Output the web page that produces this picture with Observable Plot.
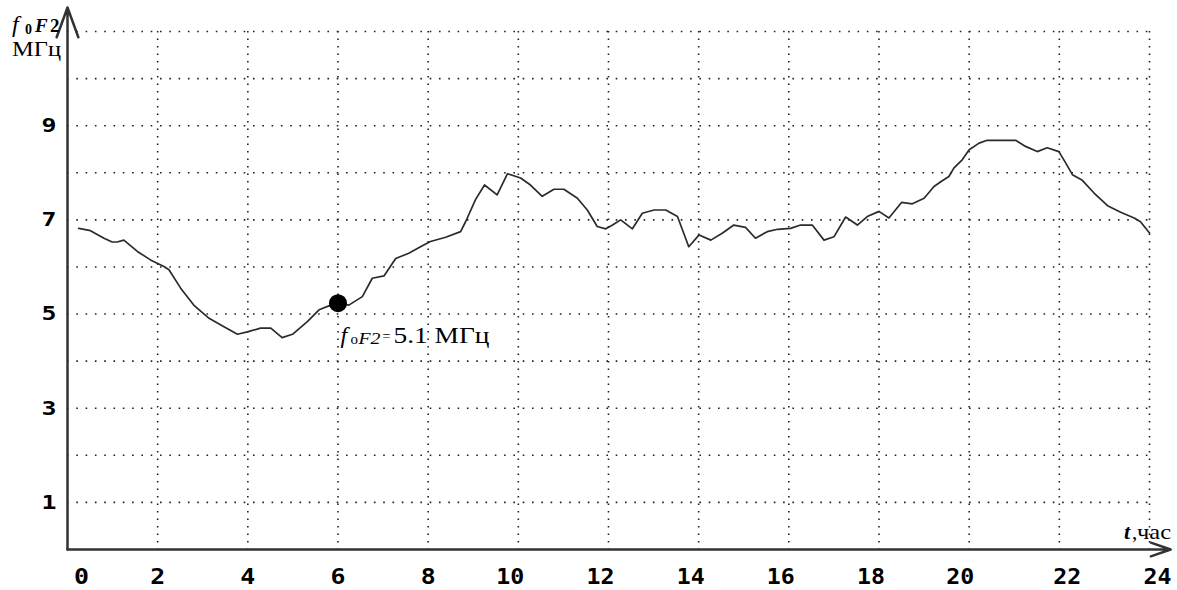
<!DOCTYPE html>
<html><head><meta charset="utf-8">
<script src="https://cdn.jsdelivr.net/npm/d3@7"></script>
<script src="https://cdn.jsdelivr.net/npm/@observablehq/plot@0.6"></script>
<style>html,body{margin:0;padding:0;background:#fff;} #chart{width:1177px;height:590px;overflow:hidden;}</style>
</head><body><div id="chart"></div>
<script>
// ---- data ----
const hours = [0.25,0.51,0.81,0.99,1.10,1.25,1.55,1.84,2.14,2.25,2.51,2.80,3.14,3.47,3.77,3.99,4.28,4.51,4.76,4.99,5.32,5.58,5.84,6.02,6.24,6.54,6.76,7.02,7.28,7.57,7.83,8.05,8.39,8.72,8.83,9.05,9.25,9.53,9.76,10.05,10.27,10.53,10.79,11.01,11.31,11.53,11.75,11.94,12.09,12.27,12.53,12.75,13.01,13.27,13.53,13.78,14.01,14.27,14.53,14.78,15.04,15.26,15.52,15.75,16.04,16.26,16.52,16.78,17.00,17.26,17.52,17.74,18.00,18.22,18.50,18.74,19.00,19.22,19.37,19.55,19.66,19.85,20.00,20.22,20.40,20.70,21.03,21.25,21.51,21.73,21.99,22.14,22.29,22.51,22.77,23.07,23.36,23.66,23.80,24.00];
const foF2 = [6.82,6.77,6.61,6.53,6.53,6.57,6.33,6.15,6.01,5.94,5.55,5.19,4.91,4.73,4.57,4.62,4.70,4.70,4.50,4.57,4.84,5.09,5.19,5.23,5.19,5.37,5.76,5.81,6.18,6.29,6.43,6.54,6.63,6.75,6.96,7.43,7.74,7.53,7.98,7.89,7.74,7.50,7.65,7.65,7.46,7.21,6.86,6.81,6.89,7.00,6.81,7.14,7.21,7.21,7.07,6.43,6.68,6.57,6.72,6.89,6.84,6.61,6.75,6.80,6.82,6.89,6.89,6.57,6.64,7.06,6.89,7.07,7.18,7.04,7.37,7.34,7.46,7.71,7.81,7.92,8.10,8.28,8.49,8.63,8.69,8.69,8.69,8.56,8.45,8.53,8.45,8.21,7.96,7.84,7.57,7.30,7.16,7.04,6.96,6.72];
const xTicks = [0,2,4,6,8,10,12,14,16,18,20,22,24];
const yTicks = [1,3,5,7,9];
const yGrid = [1,2,3,4,5,6,7,8,9,10,11];
const markHour = [6];
const markValue = [5.23];
const markText = "5.1 МГц";
const yUnit = "МГц";
const xUnit = "час";

const data = hours.map((t, i) => ({t, v: foF2[i]}));
const marker = markHour.map((t, i) => ({t, v: markValue[i]}));

const monoTick = {tickSize: 0, fontSize: 22, fontWeight: "bold", fontFamily: "DejaVu Sans Mono", label: null};
const xTickOpts = {...monoTick, tickPadding: 19};

const plot = Plot.plot({
  width: 1177, height: 590,
  marginLeft: 67, marginRight: 28, marginTop: 31, marginBottom: 41,
  x: {domain: [0, 24]},
  y: {domain: [0, 11]},
  style: {background: "#fff", color: "#000", overflow: "visible"},
  marks: [
    Plot.gridY(yGrid, {stroke: "#222", strokeOpacity: 1, strokeWidth: 1.6, strokeDasharray: "1.6,7.7"}),
    Plot.gridX(xTicks.filter(d => d > 0), {stroke: "#222", strokeOpacity: 1, strokeWidth: 1.6, strokeDasharray: "1.6,5.9"}),
    Plot.axisY(yTicks, {...monoTick, fontSize: 20, tickPadding: 11}),
    Plot.axisX(xTicks.filter(d => d === 0), {...xTickOpts, dx: 14}),
    Plot.axisX(xTicks.filter(d => d > 0 && d < 10), {...xTickOpts}),
    Plot.axisX(xTicks.filter(d => d >= 10 && d < 20), {...xTickOpts, dx: -8}),
    Plot.axisX(xTicks.filter(d => d === 20), {...xTickOpts, dx: -9}),
    Plot.axisX(xTicks.filter(d => d > 20), {...xTickOpts, dx: 8}),
    Plot.line(data, {x: "t", y: "v", stroke: "#2b2b2b", strokeWidth: 1.7}),
    Plot.arrow([{x1: 0, y1: 0, x2: 24.47, y2: 0}], {x1: "x1", y1: "y1", x2: "x2", y2: "y2", stroke: "#333", strokeWidth: 2.5, headLength: 12.6, headAngle: 38}),
    Plot.arrow([{x1: 0, y1: 0, x2: 0, y2: 11.51}], {x1: "x1", y1: "y1", x2: "x2", y2: "y2", stroke: "#333", strokeWidth: 2.5, headLength: 19, headAngle: 40}),
    Plot.dot(marker, {x: "t", y: "v", r: 9, fill: "#000", stroke: "none"})
  ]
});
document.getElementById("chart").appendChild(plot);

const svg = d3.select(plot);
// stretch the blocky tick labels to the reference widths
svg.selectAll("g[aria-label='x-axis tick label'] text, g[aria-label='y-axis tick label'] text").each(function() {
  const s = this.textContent;
  this.setAttribute("textLength", s.length > 1 ? 28 : 15);
  this.setAttribute("lengthAdjust", "spacingAndGlyphs");
});

const xs = plot.scale("x"), ys = plot.scale("y");
const x0 = xs.apply(0), yTop = ys.apply(11), yBase = ys.apply(0);
const serif = "Liberation Serif, Times New Roman, serif";

// helper: one left-anchored text piece
function piece(x, y, txt, o = {}) {
  const t = svg.append("text")
    .attr("x", x).attr("y", y)
    .attr("text-anchor", "start")
    .attr("font-family", serif)
    .attr("font-size", o.size || 20)
    .attr("fill", "#000")
    .text(txt);
  if (o.italic) t.attr("font-style", "italic");
  if (o.bold) t.attr("font-weight", "bold");
  if (o.len) t.attr("textLength", o.len).attr("lengthAdjust", "spacingAndGlyphs");
  return t;
}

// y axis label f0F2, МГц
piece(x0 - 55, yTop + 1, "f", {size: 24, italic: true});
piece(x0 - 42, yTop + 3, "0", {size: 14, bold: true});
piece(x0 - 32, yTop + 1, "F", {size: 19, italic: true, bold: true});
piece(x0 - 17, yTop + 1, "2", {size: 19, bold: true});
piece(x0 - 55, yTop + 25, yUnit, {size: 22, len: 49});

// x axis label t, час
const xEnd = xs.apply(24);
piece(xEnd - 25, yBase - 10, "t", {size: 22, italic: true, bold: true});
piece(xEnd - 17, yBase - 10, ",", {size: 21});
piece(xEnd - 12, yBase - 10, xUnit, {size: 22, len: 34});

// annotation near the marker
const px = xs.apply(markHour[0]), py = ys.apply(markValue[0]);
piece(px + 3, py + 40, "f", {size: 24, italic: true});
piece(px + 13, py + 41, "o", {size: 15});
piece(px + 21, py + 41, "F2", {size: 16, italic: true, len: 22});
piece(px + 45, py + 38, "=", {size: 14});
piece(px + 56, py + 40, markText, {size: 23, len: 96});
</script>
</body></html>
